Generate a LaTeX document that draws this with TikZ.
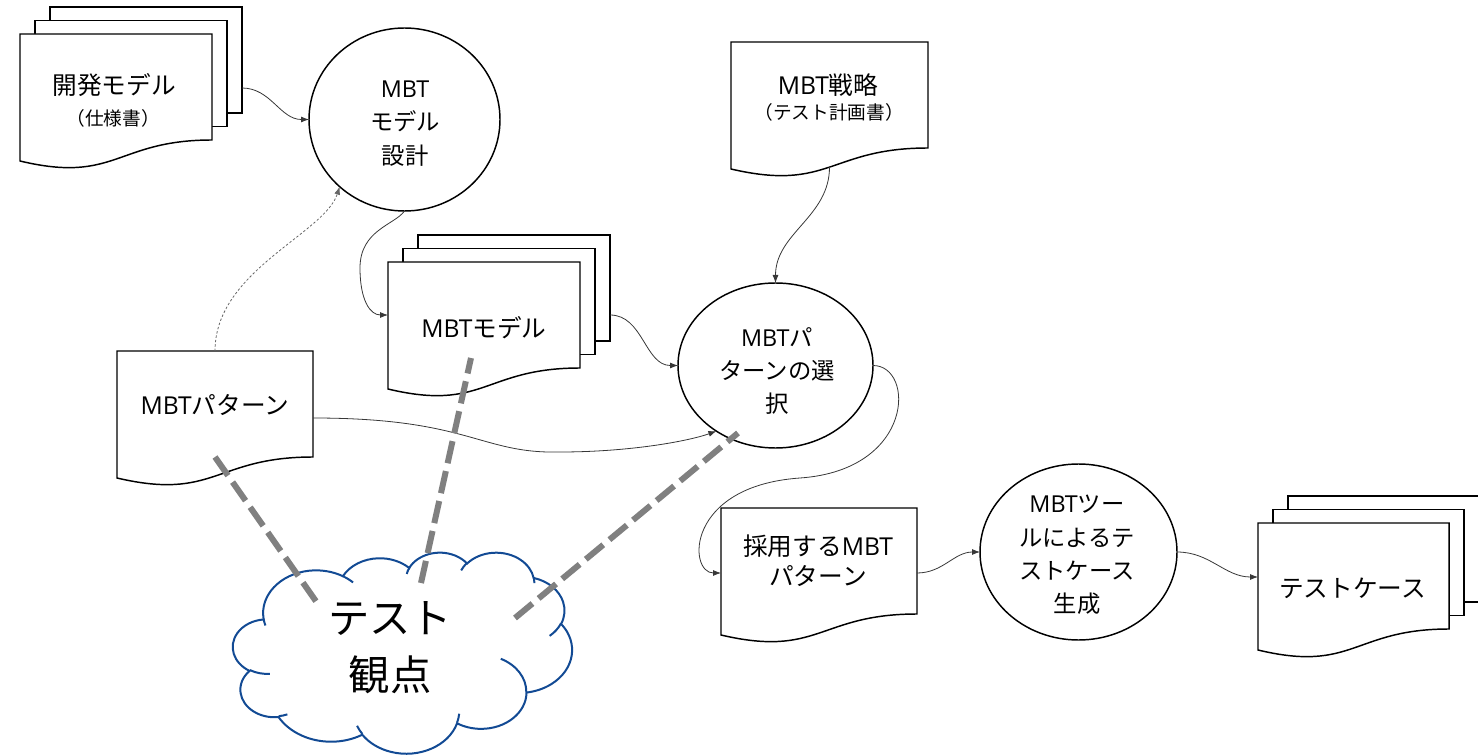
\documentclass[tikz,border=0pt]{standalone}
\usepackage{fontspec}
\setmainfont{Noto Sans CJK JP}
\newfontfamily\lat{Open Sans}
\usetikzlibrary{arrows.meta,shapes.geometric}
\definecolor{cloudblue}{RGB}{18,74,148}
\definecolor{dashgray}{RGB}{128,128,128}
\definecolor{conncol}{RGB}{55,55,55}
\newcommand\mbt{{\lat MBT}}
\newcommand\carc[4]{arc[x radius=#1, y radius=#2, start angle={atan2(#1*sin(#3),#2*cos(#3))}, delta angle={mod(atan2(#1*sin(#3+#4),#2*cos(#3+#4))-atan2(#1*sin(#3),#2*cos(#3))+720,360)}]}
\newcommand\docbody[3]{%
  \filldraw[docline] (#1,-#2) -- ({#1+#3},-#2) -- ({#1+#3},{-(#2+106)})
    .. controls ({#1+0.5*#3},{-(#2+106)}) and ({#1+0.5*#3},{-(#2+150)}) .. (#1,{-(#2+127)}) -- cycle;}
\newcommand\multidoc[3]{%
  \filldraw[docline] ({#1+30},{-(#2-27)}) rectangle ({#1+30+#3},{-(#2-27+106)});
  \filldraw[docline] ({#1+15},{-(#2-13.5)}) rectangle ({#1+15+#3},{-(#2-13.5+106)});
  \docbody{#1}{#2}{#3}}
\tikzset{
  docline/.style={draw=black, fill=white, line width=1.1pt},
  circ/.style={ellipse, draw=black, fill=white, line width=1.1pt, inner sep=0pt, outer sep=0pt},
  txtdoc/.style={font=\fontsize{18.5}{22.5}\selectfont, align=center, inner sep=0pt},
  txtsub/.style={font=\fontsize{14}{16}\selectfont, inner sep=0pt},
  txtc/.style={font=\fontsize{17.5}{25}\selectfont, align=center, inner sep=0pt},
  conn/.style={draw=conncol, line width=0.6pt, -{Latex[length=6pt,width=4.5pt]}},
  dotconn/.style={conn, draw=black!60, dash pattern=on 1.8pt off 1.5pt},
  viewline/.style={draw=dashgray, line width=4.5pt, dash pattern=on 17pt off 6pt},
  cloudline/.style={draw=cloudblue, line width=1.5pt}
}
\begin{document}
\begin{tikzpicture}[x=0.75pt, y=0.75pt]
\useasboundingbox (0,0) rectangle (1478,-755);

% documents
\multidoc{20}{34}{192}
\node[txtdoc] (dev) at (114,-85) {開発モデル};
\node[txtsub] (devsub) at (113,-118) {（仕様書）};
\coordinate (devR) at (242,-88);

\docbody{731}{42}{197}
\node[txtdoc] (strat) at (828,-85) {\mbt 戦略};
\node[txtsub] (stratsub) at (829,-112) {（テスト計画書）};
\coordinate (stratB) at (829.5,-167);

\multidoc{388}{262}{192}
\node[txtdoc] (model) at (484,-328) {\mbt モデル};
\coordinate (modelL) at (388,-315);
\coordinate (modelR) at (610,-315);

\docbody{117}{351}{196}
\node[txtdoc] (pat) at (215,-405) {\mbt パターン};
\coordinate (patT) at (215,-351);
\coordinate (patR) at (313,-418);

\docbody{721}{508}{196}
\node[txtdoc] (adopt) at (818,-561) {採用する\mbt\\パターン};
\coordinate (adoptL) at (721,-573);
\coordinate (adoptR) at (917,-573);

\multidoc{1258}{523}{191}
\node[txtdoc] (tc) at (1352.5,-588) {テストケース};
\coordinate (tcL) at (1258,-577);

% process ellipses
\node[circ, minimum width=191*0.75, minimum height=183*0.75] (design) at (404.5,-119.5) {};
\node[txtc] (designT) at (405,-123.5) {\mbt\\モデル\\設計};

\node[circ, minimum width=195*0.75, minimum height=165*0.75] (sel) at (775.5,-365.5) {};
\node[txtc] (selT) at (777,-371) {\mbt パ\\ターンの選\\択};

\node[circ, minimum width=197*0.75, minimum height=176*0.75] (tool) at (1078.5,-552) {};
\node[txtc] (toolT) at (1077,-555) {\mbt ツー\\ルによるテ\\ストケース\\生成};

% connectors
\draw[conn] (devR) to[out=0,in=180] (design.west);
\coordinate (m2) at (360,-268);
\draw[conn] (design.south) .. controls +(-10,-14) and +(0,38) .. (m2)
  .. controls +(0,-32) and +(-18,0) .. (modelL);
\draw[dotconn] (patT) .. controls +(0,80) and +(-15,-47) .. (design.226);
\draw[conn] (modelR) to[out=0,in=180] (sel.west);
\draw[conn] (stratB) to[out=-90,in=90] (sel.north);
\coordinate (m6) at (560,-452);
\draw[conn] (patR) .. controls +(157,0) and +(-80,-2) .. (m6)
  .. controls +(70,0) and +(-28,-10) .. (sel.228);
\coordinate (m7) at (800,-478);
\draw[conn] (sel.east) .. controls +(42,0) and +(115,8) .. (m7)
  .. controls +(-115,-8) and +(-33,0) .. (adoptL);
\draw[conn] (adoptR) to[out=0,in=180] (tool.west);
\draw[conn] (tool.east) to[out=0,in=180] (tcL);

% cloud
\begin{scope}[shift={(233,-552)}, x=0.5885pt, y=-0.3490pt]
\filldraw[cloudline, fill=white] (39.00,143.70)
  \carc{67.53}{91.90}{-190.4875}{123.7805}
  \carc{53.33}{72.67}{-144.1024}{89.9452}
  \carc{43.65}{59.45}{-145.8079}{99.7230}
  \carc{48.57}{65.95}{-130.9861}{117.2417}
  \carc{53.33}{72.73}{-78.7089}{109.0269}
  \carc{67.75}{92.20}{-46.2673}{130.2690}
  \carc{57.85}{78.67}{0.6250}{114.0333}
  \carc{67.52}{92.15}{22.4516}{115.1726}
  \carc{77.20}{105.43}{66.2426}{75.7110}
  \carc{43.60}{59.18}{-274.9421}{146.7356}
  \carc{43.45}{59.45}{-246.8285}{152.5189}
  -- cycle;
\draw[cloudline]
  (46.93,261.77) \carc{43.45}{59.45}{86.7420}{26.4295}
  (69.28,348.99) \carc{43.60}{59.18}{73.6105}{11.4475}
  (164.78,390.90) \carc{67.52}{92.15}{137.6242}{14.0811}
  (288.27,347.51) \carc{67.52}{92.15}{6.4533}{15.9984}
  (341.29,229.54) \carc{57.85}{78.67}{-70.2924}{70.9174}
  (417.98,153.54) \carc{53.33}{72.73}{30.3180}{27.7515}
  (383.24,54.26) \carc{48.57}{65.95}{-13.7443}{14.8589}
  (290.78,39.52) \carc{48.57}{65.95}{-149.1815}{18.1954}
  (221.41,47.20) \carc{43.65}{59.45}{-163.4943}{17.6864}
  (140.00,51.92) \carc{67.53}{91.90}{-66.7070}{12.3194}
  (41.27,157.89) \carc{67.53}{91.90}{157.6544}{11.8582};
\end{scope}
\node[font=\fontsize{31}{43}\selectfont, align=center, inner sep=0pt] (tp) at (390,-648) {テスト\\観点};

% viewpoint dashed lines
\coordinate (v1a) at (215,-457);
\coordinate (v1b) at (320,-607);
\coordinate (v2a) at (471,-358);
\coordinate (v2b) at (421,-583);
\coordinate (v3a) at (738,-433);
\coordinate (v3b) at (515,-618);
\draw[viewline] (v1a) -- (v1b);
\draw[viewline] (v2b) -- (v2a);
\draw[viewline] (v3b) -- (v3a);
\end{tikzpicture}
\end{document}
